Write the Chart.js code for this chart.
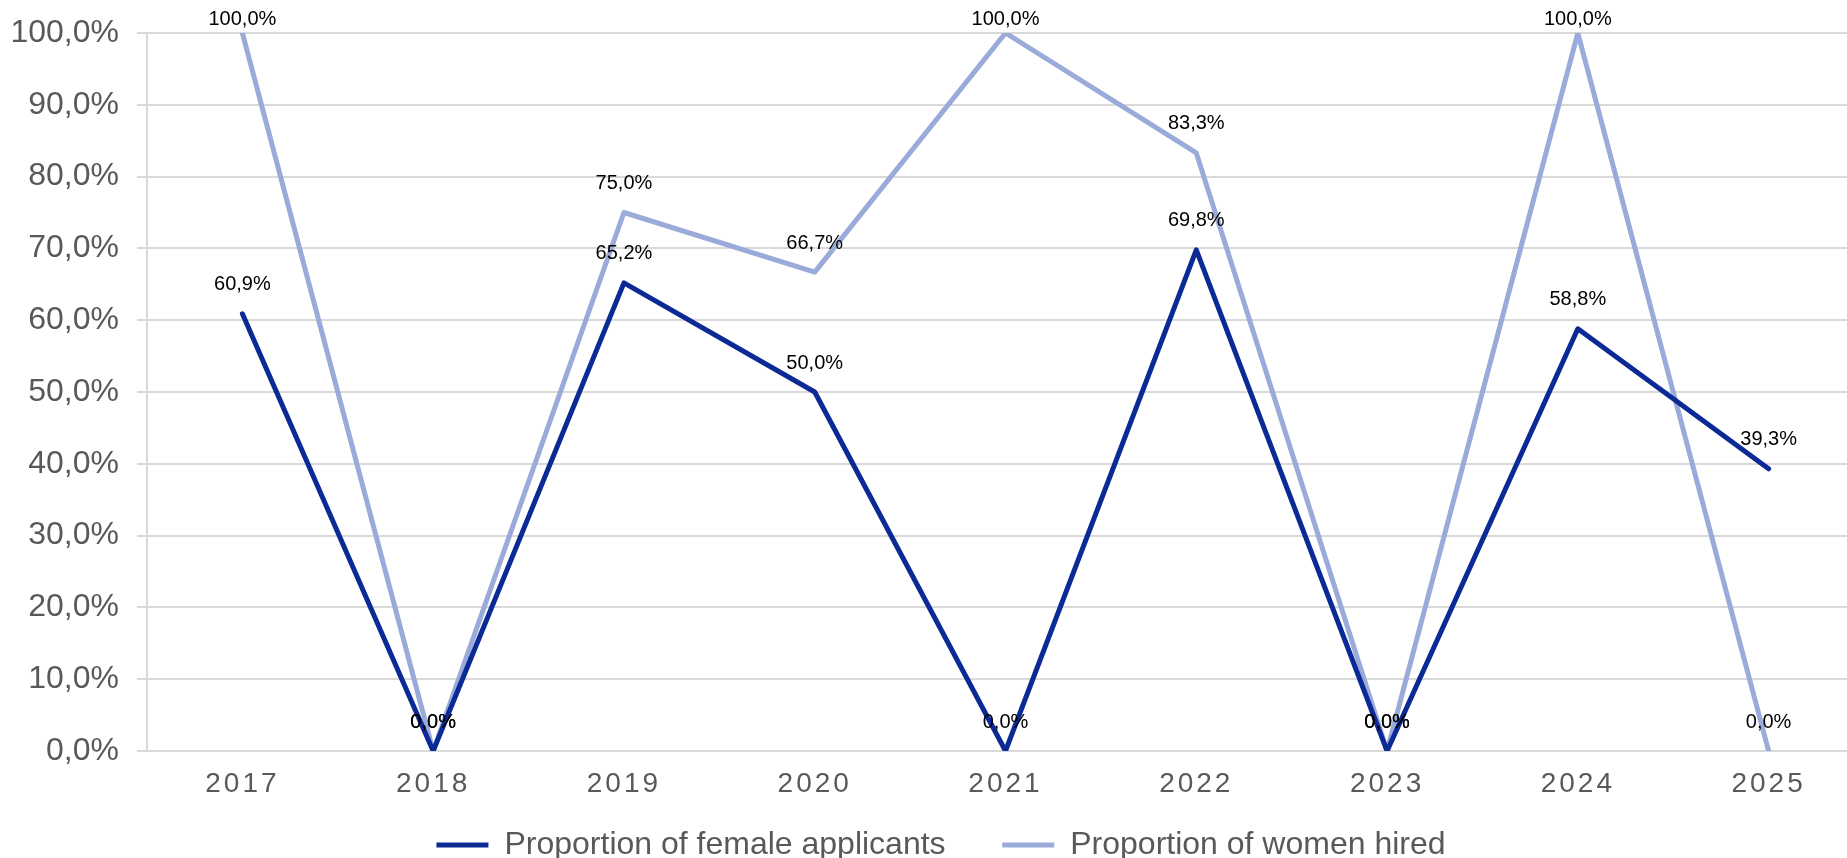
<!DOCTYPE html>
<html>
<head>
<meta charset="utf-8">
<script src="https://cdn.jsdelivr.net/npm/chart.js@4/dist/chart.umd.min.js"></script>
<style>
  html, body { margin: 0; padding: 0; background: #fff; overflow: hidden; }
  #wrap { width: 1864px; height: 858px; }
</style>
</head>
<body>
<div id="wrap"><canvas id="myChart"></canvas></div>
<script>
// chart data
const years = ['2017', '2018', '2019', '2020', '2021', '2022', '2023', '2024', '2025'];
const femaleApplicants = [60.9, 0.0, 65.2, 50.0, 0.0, 69.8, 0.0, 58.8, 39.3];
const womenHired = [100.0, 0.0, 75.0, 66.7, 100.0, 83.3, 0.0, 100.0, 0.0];
const seriesNames = ['Proportion of female applicants', 'Proportion of women hired'];

const fmt = v => v.toFixed(1).replace('.', ',') + '%';

// draws the value above every point, like the excel data labels
const valueLabels = {
  id: 'valueLabels',
  afterDatasetsDraw(chart) {
    const ctx = chart.ctx;
    ctx.save();
    ctx.font = '20px "Liberation Sans", Arial, sans-serif';
    ctx.fillStyle = '#000';
    ctx.textAlign = 'center';
    ctx.textBaseline = 'middle';
    chart.data.datasets.forEach((ds, i) => {
      chart.getDatasetMeta(i).data.forEach((pt, j) => {
        const y = Math.max(pt.y - 29, 19);
        ctx.fillText(fmt(ds.data[j]), pt.x, y);
      });
    });
    ctx.restore();
  }
};

// year labels have a bit of letter spacing in the original
const spacedYears = {
  id: 'spacedYears',
  afterUpdate(chart) {
    const s = chart.scales.x;
    if (s._spaced) return;
    const orig = s.drawLabels.bind(s);
    s.drawLabels = function (area) {
      this.ctx.save();
      this.ctx.letterSpacing = '3px';
      orig(area);
      this.ctx.restore();
    };
    s._spaced = true;
  }
};

// legend sits a bit right of the canvas centre in the original
const nudgeLegend = {
  id: 'nudgeLegend',
  afterLayout(chart) {
    if (!chart.legend) return;
    chart.legend.left += 9;
    chart.legend.right += 9;
  }
};

new Chart(document.getElementById('myChart'), {
  type: 'line',
  data: {
    labels: years,
    datasets: [
      {
        label: seriesNames[0],
        data: femaleApplicants,
        borderColor: '#0b2a96',
        backgroundColor: '#0b2a96',
        borderWidth: 5,
        borderJoinStyle: 'round',
        borderCapStyle: 'round',
        pointRadius: 0,
        tension: 0
      },
      {
        label: seriesNames[1],
        data: womenHired,
        borderColor: '#9aaad9',
        backgroundColor: '#9aaad9',
        borderWidth: 5,
        borderJoinStyle: 'round',
        borderCapStyle: 'round',
        pointRadius: 0,
        tension: 0
      }
    ]
  },
  options: {
    responsive: true,
    maintainAspectRatio: false,
    animation: false,
    layout: { padding: { top: 33, left: 0, right: 0, bottom: -13 } },
    scales: {
      x: {
        offset: true,
        afterFit(scale) { scale.height = 48; },
        grid: { display: false },
        border: { display: false },
        ticks: {
          color: '#595959',
          padding: 8,
          font: { size: 28, family: '"Liberation Sans", Arial, sans-serif' }
        }
      },
      y: {
        min: 0,
        max: 100,
        afterFit(scale) {
          scale.width = 147;
          scale.paddingTop = 0;
          scale.paddingBottom = 0;
        },
        grid: { color: '#d9d9d9', lineWidth: 2, tickLength: 10 },
        border: { display: true, color: '#d9d9d9', width: 2 },
        ticks: {
          stepSize: 10,
          color: '#595959',
          padding: 18,
          font: { size: 32, family: '"Liberation Sans", Arial, sans-serif' },
          callback: v => fmt(v)
        }
      }
    },
    plugins: {
      legend: {
        position: 'bottom',
        labels: {
          usePointStyle: true,
          pointStyle: 'line',
          pointStyleWidth: 52,
          boxWidth: 52,
          boxHeight: 5,
          padding: 30,
          color: '#595959',
          font: { size: 32, family: '"Liberation Sans", Arial, sans-serif' },
          // a little extra room between the two legend entries
          generateLabels(chart) {
            const items = Chart.defaults.plugins.legend.labels.generateLabels(chart);
            items[0].text += '\u00a0\u00a0\u00a0';
            return items;
          }
        }
      },
      tooltip: { enabled: false }
    }
  },
  plugins: [valueLabels, spacedYears, nudgeLegend]
});
</script>
</body>
</html>
